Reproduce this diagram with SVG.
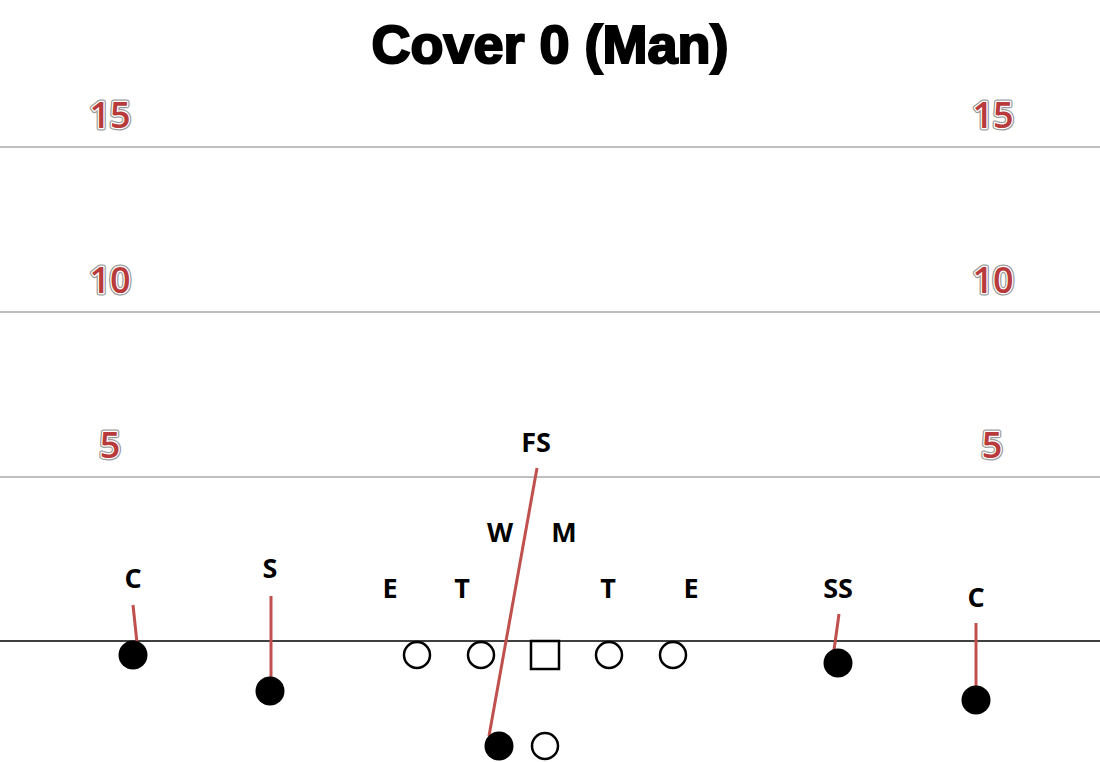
<svg xmlns="http://www.w3.org/2000/svg" width="1100" height="762" viewBox="0 0 1100 762">
<defs>
<style>
.title{font-family:"Liberation Sans",Arial,sans-serif;font-weight:bold;font-size:54px;fill:#000;stroke:#000;stroke-width:2.2px;text-anchor:middle}
.yard{stroke:#bfbfbf;stroke-width:2}
.los{stroke:#000;stroke-width:1.5}
.num{font-family:"Open Sans","DejaVu Sans",sans-serif;font-weight:600;font-size:36px;fill:#b83a3a;stroke:#9a9a9a;stroke-width:5px;paint-order:stroke;stroke-linejoin:round;text-anchor:middle}
.numw{font-family:"Open Sans","DejaVu Sans",sans-serif;font-weight:600;font-size:36px;fill:#b83a3a;stroke:#fff;stroke-width:2.5px;paint-order:stroke;stroke-linejoin:round;text-anchor:middle}
.lbl{font-family:"Open Sans","Liberation Sans",sans-serif;font-weight:bold;font-size:27px;fill:#000;text-anchor:middle}
.off{fill:#fff;stroke:#000;stroke-width:2.5}
.def{fill:#000}
.rt{stroke:#c0504d;stroke-width:3;fill:none}
</style>
</defs>
<rect width="1100" height="762" fill="#fff"/>
<text class="title" x="550" y="63">Cover 0 (Man)</text>
<g id="field">
<line class="yard" x1="0" y1="147" x2="1100" y2="147"/>
<line class="yard" x1="0" y1="312" x2="1100" y2="312"/>
<line class="yard" x1="0" y1="477" x2="1100" y2="477"/>
<line class="los" x1="0" y1="641" x2="1100" y2="641"/>
<g id="numbers">
<text class="num" x="110" y="128">15</text><text class="numw" x="110" y="128">15</text>
<text class="num" x="993" y="128">15</text><text class="numw" x="993" y="128">15</text>
<text class="num" x="110" y="293">10</text><text class="numw" x="110" y="293">10</text>
<text class="num" x="993" y="293">10</text><text class="numw" x="993" y="293">10</text>
<text class="num" x="110" y="458">5</text><text class="numw" x="110" y="458">5</text>
<text class="num" x="992" y="458">5</text><text class="numw" x="992" y="458">5</text>
</g>
</g>
<g id="connectors">
<line class="rt" x1="133" y1="605" x2="137" y2="643"/>
<line class="rt" x1="271" y1="596" x2="271" y2="680"/>
<line class="rt" x1="839" y1="614" x2="834" y2="650"/>
<line class="rt" x1="976" y1="623" x2="976" y2="688"/>
<line class="rt" x1="537" y1="468" x2="489" y2="736"/>
</g>
<g id="offense">
<g id="o-lt"><circle class="off" cx="417" cy="655" r="13"/></g>
<g id="o-lg"><circle class="off" cx="481" cy="655" r="13"/></g>
<g id="o-c"><rect class="off" x="531" y="641" width="28" height="28"/></g>
<g id="o-rg"><circle class="off" cx="609" cy="655" r="13"/></g>
<g id="o-rt"><circle class="off" cx="673" cy="655" r="13"/></g>
<g id="o-rb"><circle class="off" cx="545" cy="746" r="13"/></g>
</g>
<g id="defense">
<g id="d-lc"><circle class="def" cx="133" cy="655" r="14.5"/></g>
<g id="d-s"><circle class="def" cx="270" cy="691" r="14.5"/></g>
<g id="d-fs-target"><circle class="def" cx="499" cy="746" r="14.5"/></g>
<g id="d-ss"><circle class="def" cx="838" cy="663" r="14.5"/></g>
<g id="d-rc"><circle class="def" cx="976" cy="700" r="14.5"/></g>
</g>
<g id="labels">
<text class="lbl" x="133" y="588">C</text>
<text class="lbl" x="270" y="578">S</text>
<text class="lbl" x="390" y="598">E</text>
<text class="lbl" x="462" y="598">T</text>
<text class="lbl" x="608" y="598">T</text>
<text class="lbl" x="691" y="598">E</text>
<text class="lbl" x="500" y="542">W</text>
<text class="lbl" x="564" y="542">M</text>
<text class="lbl" x="536" y="452">FS</text>
<text class="lbl" x="838" y="598">SS</text>
<text class="lbl" x="976" y="607">C</text>
</g>
</svg>
